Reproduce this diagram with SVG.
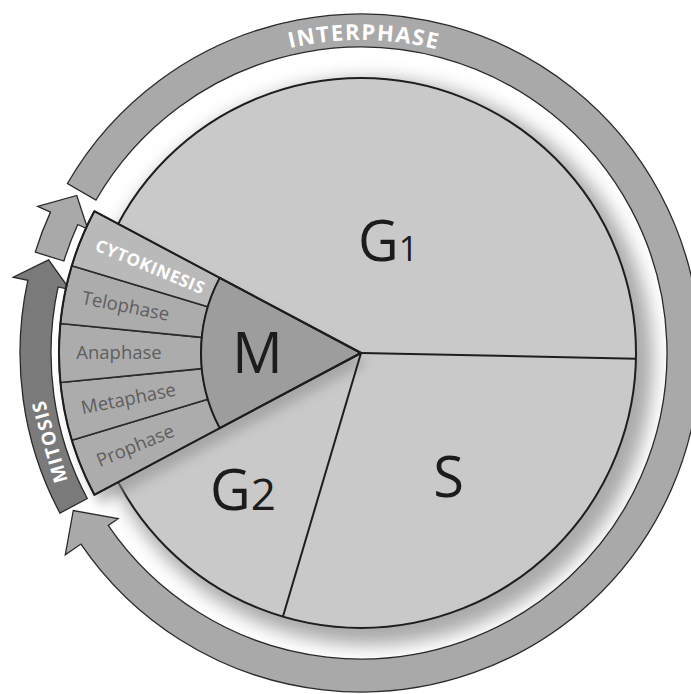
<svg xmlns="http://www.w3.org/2000/svg" width="691" height="694" viewBox="0 0 691 694">
  <style>
    .edge { stroke: #1e1e1e; stroke-width: 2; fill: none; stroke-linejoin: round; }
    .ring { fill: #a9a9a9; stroke: #2a2a2a; stroke-width: 1.3; stroke-linejoin: miter; }
    .sector { fill: #acacac; stroke: #2a2a2a; stroke-width: 1.6; stroke-linejoin: round; }
    .big { font-family: "Open Sans", "Liberation Sans", sans-serif; font-size: 56px; fill: #1c1c1c; }
    .sub { font-family: "Open Sans", "Liberation Sans", sans-serif; font-size: 18.5px; fill: #5e5e5e; text-anchor: middle; }
    .white { font-family: "Open Sans", "Liberation Sans", sans-serif; font-weight: 700; fill: #ffffff; text-anchor: middle; }
  </style>
  <defs>
    <filter id="blur8" x="-30%" y="-30%" width="160%" height="160%">
      <feGaussianBlur stdDeviation="9"/>
    </filter>
    <filter id="blur6" x="-30%" y="-30%" width="160%" height="160%">
      <feGaussianBlur stdDeviation="6"/>
    </filter>
    <path id="interArc" d="M 159.81 113.23 A 313 313 0 0 1 562.19 113.23"/>
  </defs>

  <rect x="0" y="0" width="691" height="694" fill="#ffffff"/>

  <!-- shadow of the cell circle -->
  <circle cx="370" cy="362" r="283" fill="#aaaaaa" filter="url(#blur8)"/>

  <!-- cell circle with G1, S, G2 -->
  <g id="cell">
    <circle cx="361" cy="353" r="275" fill="#c9c9c9" stroke="#1e1e1e" stroke-width="2"/>
  </g>

  <!-- wedge shadow -->
  <path d="M 361 353 L 94.35 494.78 A 302 302 0 0 1 94.35 211.22 Z" fill="#8a8a8a" opacity="0.55" transform="translate(6,10)" filter="url(#blur6)"/>

  <g id="connectors">
    <!-- phase boundaries -->
    <line class="edge" x1="361" y1="353" x2="635.94" y2="358.76"/>
    <line class="edge" x1="361" y1="353" x2="282.9" y2="616.7"/>
    <!-- interphase arrow ring -->
    <path id="interphase-arrow" class="ring" d="M 67.42 183.5 A 339 339 0 1 1 80.95 544.04 L 65.26 554.74 L 73.3 510.5 L 118.13 518.68 L 108.21 525.44 A 306 306 0 1 0 96 200 Z"/>
    <!-- mitosis arrow -->
    <path id="mitosis-arrow" d="M 59.91 513.09 A 341 341 0 0 1 27.83 280.36 L 13.17 277.16 L 48.59 259.87 L 69.84 289.52 L 58.11 286.96 A 310 310 0 0 0 87.29 498.54 Z" fill="#7a7a7a" stroke="#2a2a2a" stroke-width="1.3"/>
    <!-- cytokinesis arrow -->
    <path id="cytokinesis-arrow" class="ring" d="M 35.25 252.16 A 341 341 0 0 1 50.46 212.13 L 37.71 206.35 L 76.75 195.44 L 87.8 229.07 L 77.78 224.53 A 311 311 0 0 0 63.91 261.03 Z"/>
  </g>

  <g id="interphase-label">
    <text class="white" font-size="22"><textPath href="#interArc" startOffset="50.5%" textLength="148" lengthAdjust="spacing">INTERPHASE</textPath></text>
  </g>

  <g id="mitosis-label">
    <text class="white" font-size="19" transform="translate(49.55,442.31) rotate(-106)" x="0" y="7" textLength="84" lengthAdjust="spacing">MITOSIS</text>
  </g>

  <g id="g1">
    <text class="big" x="358" y="261">G<tspan font-size="34">1</tspan></text>
  </g>
  <g id="s">
    <text class="big" x="448.5" y="497" text-anchor="middle">S</text>
  </g>
  <g id="g2">
    <text class="big" x="210" y="510">G<tspan font-size="44">2</tspan></text>
  </g>

  <g id="prophase">
    <path class="sector" d="M 219.73 428.12 L 94.35 494.78 A 302 302 0 0 1 71.89 440.29 L 207.83 399.24 A 160 160 0 0 0 219.73 428.12 Z"/>
    <text class="sub" transform="translate(135.41,445.98) rotate(-22.4)" x="0" y="6">Prophase</text>
  </g>
  <g id="metaphase">
    <path class="sector" d="M 207.83 399.24 L 71.89 440.29 A 302 302 0 0 1 60.44 382.47 L 201.76 368.61 A 160 160 0 0 0 207.83 399.24 Z"/>
    <text class="sub" transform="translate(128.51,399.03) rotate(-11.2)" x="0" y="6">Metaphase</text>
  </g>
  <g id="anaphase">
    <path class="sector" d="M 201.76 368.61 L 60.44 382.47 A 302 302 0 0 1 60.44 323.53 L 201.76 337.39 A 160 160 0 0 0 201.76 368.61 Z"/>
    <text class="sub" transform="translate(119,353)" x="0" y="6">Anaphase</text>
  </g>
  <g id="telophase">
    <path class="sector" d="M 201.76 337.39 L 60.44 323.53 A 302 302 0 0 1 71.89 265.71 L 207.83 306.76 A 160 160 0 0 0 201.76 337.39 Z"/>
    <text class="sub" transform="translate(125.57,306.38) rotate(11.2)" x="0" y="6">Telophase</text>
  </g>
  <g id="cytokinesis">
    <path class="sector" style="fill:#b9b9b9" d="M 207.83 306.76 L 71.89 265.71 A 302 302 0 0 1 94.35 211.22 L 219.73 277.88 A 160 160 0 0 0 207.83 306.76 Z"/>
    <text class="white" font-size="17" transform="translate(150.2,266.12) rotate(22.4)" x="0" y="6.5" textLength="116" lengthAdjust="spacing">CYTOKINESIS</text>
  </g>
  <g id="m">
    <path d="M 361 353 L 219.73 428.12 A 160 160 0 0 1 219.73 277.88 Z" fill="#9d9d9d" stroke="#1e1e1e" stroke-width="2" stroke-linejoin="round"/>
    <text class="big" x="257.5" y="373" text-anchor="middle">M</text>
  </g>
  <!-- outer wedge outline -->
  <path class="edge" d="M 361 353 L 94.35 494.78 A 302 302 0 0 1 94.35 211.22 Z"/>
</svg>
